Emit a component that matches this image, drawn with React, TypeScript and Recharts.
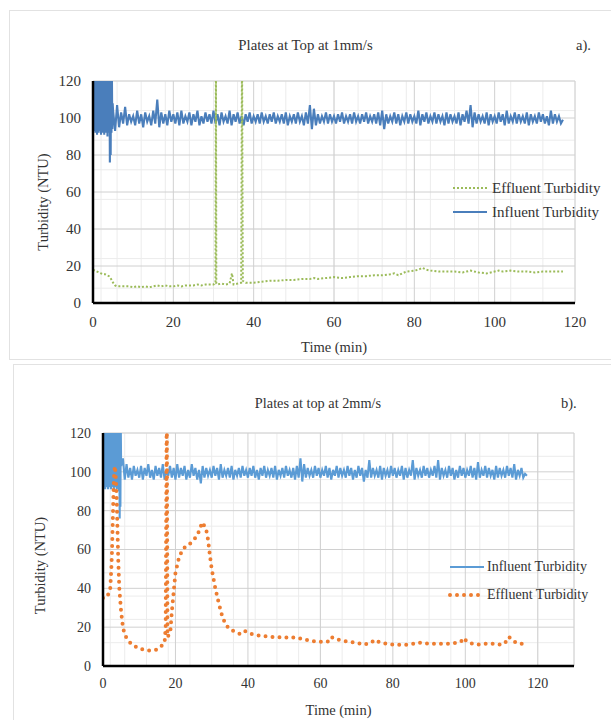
import React from 'react';
import { CartesianGrid, Line, LineChart, XAxis, YAxis } from 'recharts';

const FONT = '"Liberation Serif", "Times New Roman", serif';

// ---- panel a) Plates at Top at 1mm/s ----
// influent: 0 - 4.9 min sampled every 0.1 min (start-up surge)
const TOP_INFLUENT_START = [
  98, 125, 93, 130, 95, 128, 92, 126, 96, 130,
  91, 127, 94, 129, 92, 125, 95, 130, 93, 126,
  91, 128, 96, 130, 92, 127, 94, 129, 91, 126,
  95, 130, 92, 128, 93, 126, 90, 129, 94, 125,
  92, 128, 76, 125, 80, 128, 92, 126, 94, 108,
];
// influent: 5 - 117 min sampled every 0.5 min
const TOP_INFLUENT = [
  104, 93, 107, 95, 103, 97, 106, 96, 102, 98,
  101, 96, 104, 97, 102, 95, 103, 98, 101, 96,
  104, 97, 110, 95, 103, 97, 102, 96, 104, 98,
  102, 97, 103, 96, 104, 97, 101, 98, 103, 96,
  102, 98, 104, 96, 101, 97, 103, 98, 102, 97,
  104, 97, 102, 96, 103, 98, 101, 97, 104, 96,
  102, 98, 103, 97, 101, 96, 102, 98, 103, 97,
  101, 98, 102, 97, 103, 98, 101, 97, 102, 98,
  103, 97, 101, 98, 102, 97, 103, 96, 101, 98,
  102, 97, 103, 98, 101, 96, 103, 97, 107, 94,
  105, 96, 102, 97, 101, 98, 103, 97, 102, 98,
  101, 97, 102, 98, 103, 97, 101, 98, 102, 97,
  103, 98, 101, 97, 102, 98, 103, 97, 101, 98,
  102, 97, 103, 96, 104, 94, 102, 97, 101, 98,
  103, 97, 102, 96, 101, 98, 103, 97, 102, 98,
  101, 97, 104, 96, 102, 98, 103, 97, 101, 98,
  103, 97, 102, 98, 101, 96, 103, 97, 102, 98,
  101, 97, 103, 96, 102, 98, 104, 97, 107, 95,
  103, 97, 102, 98, 101, 97, 103, 96, 102, 98,
  101, 97, 103, 98, 102, 96, 104, 97, 101, 98,
  103, 97, 102, 98, 101, 97, 103, 96, 102, 98,
  101, 97, 103, 98, 102, 97, 101, 96, 104, 97,
  102, 98, 101, 97, 99,
];
const TOP_EFFLUENT: [number, number][] = [
  [0, 18], [0.5, 17.5], [1, 17], [1.5, 16.5], [2, 16], [2.5, 15.5], [3, 15.5], [3.5, 15], [4, 14.5],
  [4.5, 13], [5, 11], [5.5, 9.5], [6, 9], [7, 9], [8, 9], [9, 9], [10, 8.5], [11, 9], [12, 8.5],
  [13, 9], [14, 8.5], [15, 9], [16, 9.5], [17, 9], [18, 9.5], [19, 9], [20, 9], [21, 9.5], [22, 9],
  [23, 9.5], [24, 9.5], [25, 9.5], [26, 10], [27, 9.5], [28, 10], [29, 10], [30, 10], [30.5, 11],
  [30.6, 140], [30.7, 10.5], [31, 10], [32, 10.5], [33, 10], [34, 10.5], [34.6, 16], [35, 10],
  [36, 10.5], [36.9, 11], [37.1, 140], [37.3, 12], [38, 11], [39, 11], [40, 11], [42, 11.5],
  [44, 12], [46, 12], [48, 12.5], [50, 12.5], [52, 13], [54, 13], [55, 13.5], [56, 13], [58, 13.5],
  [60, 14], [62, 13.5], [64, 14], [66, 14.5], [68, 14.5], [70, 15], [72, 15], [74, 15.5], [75, 16],
  [76, 15], [77, 16], [78, 17], [80, 17.5], [81, 18], [82, 19], [83, 18], [84, 17.5], [86, 17],
  [88, 17], [90, 17], [92, 16.5], [93, 17], [94, 17.5], [96, 16.5], [98, 16], [100, 17], [101, 17.5],
  [102, 17], [104, 17.5], [106, 17], [108, 17], [110, 16.5], [112, 17], [114, 17], [116, 17], [117, 17],
];

// ---- panel b) Plates at top at 2mm/s ----
// influent: 0 - 5.0 min sampled every 0.1 min
const BOT_INFLUENT_START = [
  96, 126, 92, 129, 94, 127, 91, 130, 95, 128,
  92, 126, 94, 130, 91, 127, 95, 129, 92, 125,
  94, 128, 91, 130, 93, 126, 95, 129, 92, 127,
  91, 128, 94, 126, 92, 130, 95, 127, 91, 129,
  93, 126, 92, 128, 90, 125, 76, 120, 82, 124,
  103,
];
// influent: 5.5 - 117 min sampled every 0.5 min
const BOT_INFLUENT = [
  107, 96, 104, 97, 102, 96, 103, 98, 101, 97,
  103, 96, 102, 98, 104, 97, 101, 96, 103, 98,
  102, 97, 104, 96, 101, 98, 103, 97, 102, 96,
  104, 97, 102, 98, 103, 96, 101, 97, 104, 98,
  102, 96, 101, 94, 103, 97, 102, 98, 101, 97,
  103, 98, 102, 96, 104, 97, 101, 98, 102, 97,
  103, 96, 101, 98, 102, 97, 103, 98, 101, 97,
  102, 98, 103, 97, 101, 96, 102, 98, 103, 97,
  101, 98, 102, 97, 103, 96, 101, 98, 102, 97,
  103, 98, 101, 97, 102, 96, 103, 97, 107, 95,
  104, 97, 102, 98, 101, 97, 103, 98, 102, 97,
  101, 98, 103, 97, 102, 96, 101, 98, 103, 97,
  102, 98, 101, 97, 103, 98, 102, 96, 101, 97,
  103, 98, 102, 95, 101, 97, 106, 97, 102, 98,
  101, 97, 103, 96, 102, 98, 101, 97, 103, 98,
  102, 97, 101, 98, 103, 96, 102, 97, 101, 98,
  106, 96, 102, 98, 101, 97, 103, 98, 102, 97,
  101, 98, 103, 97, 106, 96, 102, 98, 101, 97,
  103, 98, 102, 96, 101, 97, 103, 98, 102, 97,
  101, 98, 103, 97, 102, 96, 105, 97, 101, 98,
  103, 97, 102, 98, 101, 96, 103, 97, 102, 98,
  101, 97, 103, 98, 102, 97, 104, 96, 101, 98,
  102, 97, 99, 98,
];
const BOT_EFFLUENT: [number, number][] = [
  [0, 35], [0.8, 35], [1.5, 37], [2, 40], [2.3, 50], [2.5, 60], [2.7, 75], [2.9, 90], [3.1, 100],
  [3.3, 103], [3.6, 95], [3.8, 85], [4, 70], [4.2, 55], [4.5, 40], [5, 28], [5.5, 20], [6, 16],
  [7, 13], [8, 11], [9, 10], [10, 9], [11, 8.5], [12, 8], [13, 8], [14, 8], [15, 8.5], [16, 10],
  [17, 12], [17.3, 20], [17.6, 140], [17.8, 15], [18.2, 16], [18.6, 18], [19, 28], [19.5, 38],
  [20, 48], [21, 56], [22, 60], [23, 62], [24, 63], [25, 65], [26, 67], [27, 72], [27.5, 74],
  [28, 72], [28.5, 70], [29, 65], [29.5, 57], [30, 50], [31, 40], [32, 32], [33, 25], [34, 21],
  [35, 19], [36, 18], [37, 17], [38, 16.5], [39, 18], [40, 17.5], [41, 16.5], [42, 16], [44, 15.5],
  [46, 15], [48, 15], [50, 14.5], [52, 15], [53, 14.5], [55, 14], [57, 13], [60, 12.5], [62, 12.5],
  [63, 15], [64, 14], [66, 13], [68, 12.5], [70, 12], [72, 11], [74, 12], [75, 13.5], [76, 12.5],
  [78, 11.5], [80, 11], [82, 11], [84, 11], [86, 11.5], [87, 12], [88, 12], [90, 11.5], [92, 11.5],
  [94, 11.5], [96, 11.5], [98, 12], [99, 13], [99.5, 14.5], [100.5, 12.5], [102, 11.5], [104, 11],
  [106, 11.5], [108, 11.5], [110, 11], [111, 12], [112, 15], [113, 13.5], [114, 12], [115.5, 11.5],
  [116, 11],
];

const Y_TICKS = [0, 20, 40, 60, 80, 100, 120];
const X_TICKS = [0, 20, 40, 60, 80, 100, 120];
const MINOR_Y = Array.from({ length: 31 }, (_, i) => i * 4);
const TOP_MINOR_X = Array.from({ length: 61 }, (_, i) => i * 2);
const BOT_MINOR_X = Array.from({ length: 66 }, (_, i) => i * 2);

type Pt = { t: number; v: number };
const sampled = (vals: number[], start: number, step: number): Pt[] =>
  vals.map((v, i) => ({ t: +(start + i * step).toFixed(2), v }));
const pairs = (p: [number, number][]): Pt[] => p.map(([t, v]) => ({ t, v }));

const topInfluent = [...sampled(TOP_INFLUENT_START, 0, 0.1), ...sampled(TOP_INFLUENT, 5, 0.5)];
const topEffluent = pairs(TOP_EFFLUENT);
const botInfluent = [...sampled(BOT_INFLUENT_START, 0, 0.1), ...sampled(BOT_INFLUENT, 5.5, 0.5)];
const botEffluent = pairs(BOT_EFFLUENT);

const TOP_INF_COLOR = '#4a7ebb';
const TOP_EFF_COLOR = '#9bbb59';
const BOT_INF_COLOR = '#5b9bd5';
const BOT_EFF_COLOR = '#ed7d31';

type LegendItem = { name: string; color: string; dash?: string; width: number; cap?: 'round' | 'butt' };

function LegendBox({ items, left, top, rowH, fontSize, sampleW, gap }: { items: LegendItem[]; left: number; top: number; rowH: number; fontSize: number; sampleW: number; gap: number }) {
  return (
    <div style={{ position: 'absolute', left, top, fontFamily: FONT, fontSize, color: '#333', whiteSpace: 'nowrap' }}>
      {items.map((it) => (
        <div key={it.name} style={{ height: rowH, display: 'flex', alignItems: 'center' }}>
          <svg width={sampleW} height={8} style={{ marginRight: gap }}>
            <line x1={2} y1={4} x2={sampleW - 2} y2={4} stroke={it.color} strokeWidth={it.width} strokeDasharray={it.dash} strokeLinecap={it.cap ?? 'butt'} />
          </svg>
          <span>{it.name}</span>
        </div>
      ))}
    </div>
  );
}

const yLabel = (dx: number, dy: number) => (props: any) => {
  const { x, y, height } = props.viewBox;
  const cx = x + dx;
  const cy = y + height / 2 + dy;
  return (
    <text x={cx} y={cy} transform={`rotate(-90 ${cx} ${cy})`} textAnchor="middle" dominantBaseline="central" fontFamily={FONT} fontSize={14.5} fill="#333">
      Turbidity (NTU)
    </text>
  );
};

function Panel({
  top, influent, effluent, xMax, minorX, margin, infColor, effColor, effDash, effWidth, effCap, tickCfg, labelDx, labelDy,
}: any) {
  return (
    <div style={{ position: 'absolute', left: 0, top, width: 611, height: 360 }}>
      <LineChart width={611} height={360} margin={margin}>
        <XAxis xAxisId="m" type="number" dataKey="t" domain={[0, xMax]} ticks={minorX} hide allowDataOverflow />
        <YAxis yAxisId="m" type="number" domain={[0, 120]} ticks={MINOR_Y} hide allowDataOverflow />
        <CartesianGrid xAxisId="m" yAxisId="m" stroke="#ececec" strokeWidth={1} />
        <CartesianGrid stroke="#d0d0d0" strokeWidth={1} />
        <XAxis
          type="number"
          dataKey="t"
          domain={[0, xMax]}
          ticks={X_TICKS}
          allowDataOverflow
          height={50}
          tickLine={false}
          tickSize={6}
          tickMargin={tickCfg.x}
          axisLine={{ stroke: '#000', strokeWidth: 2.5 }}
          tick={{ fontSize: tickCfg.font, fill: '#333', fontFamily: FONT }}
          label={{ value: 'Time (min)', position: 'insideBottom', offset: 1.5, style: { fontSize: 14.5, fill: '#333', fontFamily: FONT } }}
        />
        <YAxis
          type="number"
          domain={[0, 120]}
          ticks={Y_TICKS}
          allowDataOverflow
          width={60}
          tickLine={false}
          tickSize={6}
          tickMargin={6}
          axisLine={{ stroke: '#000', strokeWidth: 2.5 }}
          tick={{ fontSize: tickCfg.font, fill: '#333', fontFamily: FONT }}
          label={yLabel(labelDx, labelDy)}
        />
        <Line data={influent} dataKey="v" name="Influent Turbidity" type="linear" stroke={infColor} strokeWidth={2.1} dot={false} isAnimationActive={false} />
        <Line data={effluent} dataKey="v" name="Effluent Turbidity" type="linear" stroke={effColor} strokeWidth={effWidth} strokeDasharray={effDash} strokeLinecap={effCap} dot={false} isAnimationActive={false} />
      </LineChart>
    </div>
  );
}

const TOP_LEGEND: LegendItem[] = [
  { name: 'Effluent Turbidity', color: TOP_EFF_COLOR, dash: '2 2', width: 2 },
  { name: 'Influent Turbidity', color: TOP_INF_COLOR, width: 2 },
];
const BOT_LEGEND: LegendItem[] = [
  { name: 'Influent Turbidity', color: BOT_INF_COLOR, width: 2 },
  { name: 'Effluent Turbidity', color: BOT_EFF_COLOR, dash: '0 7', width: 4, cap: 'round' },
];

export default function App() {
  const txt = (s: string, left: number, top: number, size: number, align: 'center' | 'left' = 'center', w = 240) => (
    <div style={{ position: 'absolute', left: align === 'center' ? left - w / 2 : left, top: top - 10, width: w, height: 20, lineHeight: '20px', textAlign: align, fontSize: size, color: '#333', fontFamily: FONT }}>
      {s}
    </div>
  );
  return (
    <div style={{ position: 'fixed', left: 0, top: 0, width: 611, height: 720, overflow: 'hidden', background: '#fff' }}>
      <div style={{ position: 'absolute', left: 9, top: 10, width: 610, height: 348, border: '1px solid #e2e2e2' }} />
      <div style={{ position: 'absolute', left: 13, top: 364, width: 610, height: 380, border: '1px solid #e2e2e2' }} />
      {txt('Plates at Top at 1mm/s', 305.5, 45, 14.8)}
      {txt('a).', 576, 45, 14.5, 'left', 40)}
      {txt('Plates at top at 2mm/s', 318, 403, 14.3)}
      {txt('b).', 561, 403, 14.5, 'left', 40)}
      <Panel
        top={0}
        influent={topInfluent}
        effluent={topEffluent}
        xMax={120}
        minorX={TOP_MINOR_X}
        margin={{ top: 81, right: 36, bottom: 7, left: 33 }}
        infColor={TOP_INF_COLOR}
        effColor={TOP_EFF_COLOR}
        effDash="2 2"
        effWidth={2}
        effCap="butt"
        tickCfg={{ x: 7, font: 15 }}
        labelDx={10}
        labelDy={10}
      />
      <Panel
        top={360}
        influent={botInfluent}
        effluent={botEffluent}
        xMax={130}
        minorX={BOT_MINOR_X}
        margin={{ top: 73, right: 37, bottom: 4, left: 43 }}
        infColor={BOT_INF_COLOR}
        effColor={BOT_EFF_COLOR}
        effDash="0 7"
        effWidth={4}
        effCap="round"
        tickCfg={{ x: 6, font: 14 }}
        labelDx={-3.5}
        labelDy={16}
      />
      <LegendBox items={TOP_LEGEND} left={451} top={176} rowH={24} fontSize={15} sampleW={38} gap={3} />
      <LegendBox items={BOT_LEGEND} left={448} top={553} rowH={28} fontSize={14} sampleW={38} gap={1} />
    </div>
  );
}
